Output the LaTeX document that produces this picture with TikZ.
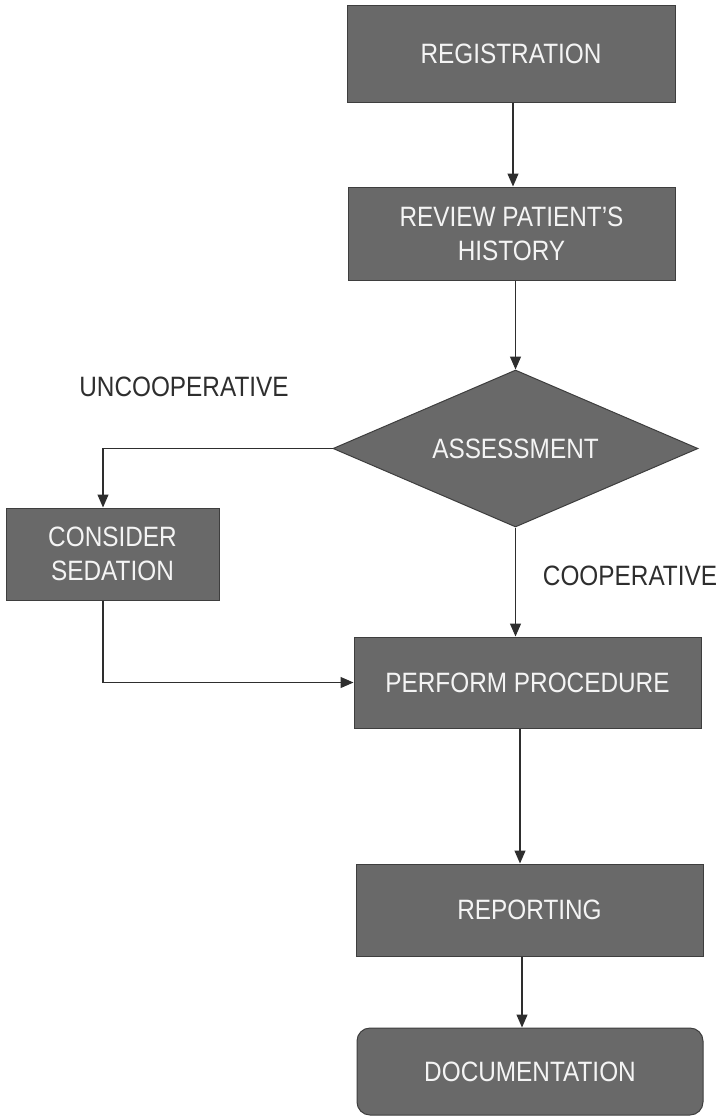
\documentclass[tikz,border=0pt]{standalone}
\usepackage{fontspec}
\setmainfont[FakeStretch=0.87]{Liberation Sans}
\usetikzlibrary{shapes.geometric,arrows.meta}
\definecolor{boxfill}{HTML}{696969}
\definecolor{boxline}{HTML}{3E3E3E}
\definecolor{ink}{HTML}{2E2E2E}
\definecolor{boxtext}{HTML}{F4F4F4}
\tikzset{
  box/.style={rectangle, draw=boxline, line width=1pt, fill=boxfill, text=boxtext,
    font=\fontsize{28}{34}\selectfont, align=center, inner sep=0pt},
  decision/.style={diamond, shape aspect=2.325, draw=boxline, line width=1pt, fill=boxfill, text=boxtext,
    font=\fontsize{28}{34}\selectfont, inner sep=0pt},
  lbl/.style={text=ink, font=\fontsize{28}{34}\selectfont, inner sep=0pt},
  arr/.style={draw=ink, line width=1.2pt, -{Triangle[length=13pt,width=11pt]}},
  ln/.style={draw=ink, line width=1.2pt}
}
\begin{document}
\begin{tikzpicture}[x={(1pt,0)}, y={(0,-1pt)}]
\useasboundingbox (0,0) rectangle (722,1117);
\node[box, minimum width=328pt, minimum height=97pt] (reg) at (511,53.5) {REGISTRATION};
\node[box, minimum width=327pt, minimum height=93pt] (rev) at (511.5,233.5) {REVIEW PATIENT'S\\HISTORY};
\node[decision, minimum width=365pt, minimum height=157pt] (as) at (515.5,448.5) {ASSESSMENT};
\node[box, minimum width=213pt, minimum height=92pt] (cs) at (112.5,554) {CONSIDER\\SEDATION};
\node[box, minimum width=347pt, minimum height=91pt] (pp) at (527.5,682.5) {PERFORM PROCEDURE};
\node[box, minimum width=347pt, minimum height=92pt] (rp) at (529.5,910) {REPORTING};
\node[box, rounded corners=13pt, minimum width=346pt, minimum height=87pt] (doc) at (530,1071.5) {\raisebox{-4pt}{DOCUMENTATION}};
\node[lbl] (unc) at (184,386.5) {UNCOOPERATIVE};
\node[lbl] (coop) at (630,576) {COOPERATIVE};
\coordinate (k) at (103,0);
\coordinate (m1) at (513,0);
\coordinate (m2) at (520,0);
\coordinate (m3) at (522,0);
\draw[arr] (reg.south -| m1) -- (rev.north -| m1);
\draw[arr] (as.north |- rev.south) -- (as.north);
\draw[arr] (as.west) -| (k |- cs.north);
\draw[arr] (as.south) -- (as.south |- pp.north);
\draw[arr] (k |- cs.south) |- (pp.west);
\draw[arr] (pp.south -| m2) -- (rp.north -| m2);
\draw[arr] (rp.south -| m3) -- (doc.north -| m3);
\end{tikzpicture}
\end{document}
